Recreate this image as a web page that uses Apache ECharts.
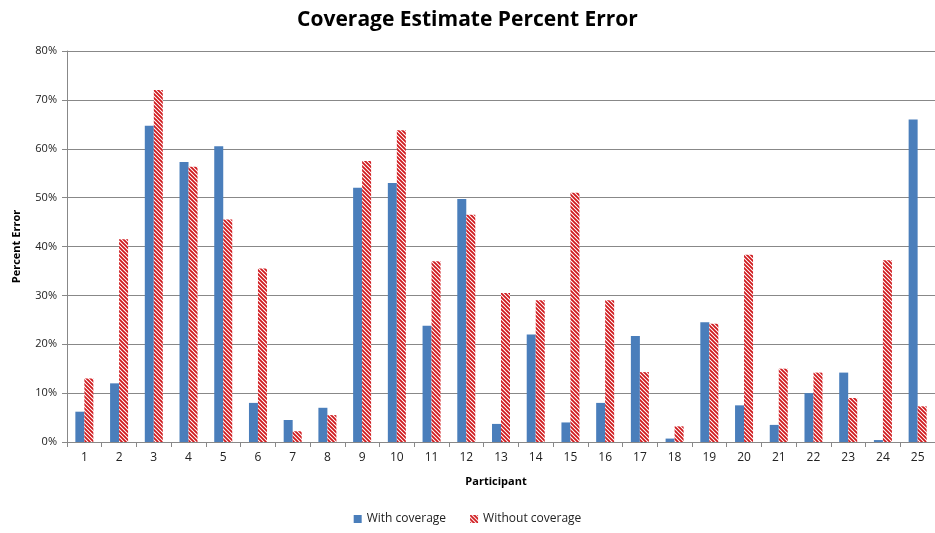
<!DOCTYPE html>
<html><head><meta charset="utf-8">
<script src="https://cdn.jsdelivr.net/npm/echarts@6/dist/echarts.min.js"></script>
<style>html,body{margin:0;padding:0;background:#fff}#c{width:935px;height:533px}</style>
</head><body><div id="c"></div>
<script>
const categories = ['1','2','3','4','5','6','7','8','9','10','11','12','13','14','15','16','17','18','19','20','21','22','23','24','25'];
const withCoverage = [6.2,12,64.7,57.3,60.5,8,4.5,7,52,53,23.8,49.7,3.7,22,4,8,21.7,0.7,24.5,7.5,3.5,10,14.2,0.4,66];
const withoutCoverage = [13,41.5,72,56.3,45.5,35.5,2.2,5.5,57.5,63.8,37,46.5,30.5,29,51,29,14.3,3.2,24.2,38.3,15,14.2,9,37.2,7.3];
const yTicks = [0,10,20,30,40,50,60,70,80];

function hatch(){
  const c = document.createElement('canvas');
  c.width = 4; c.height = 4;
  const g = c.getContext('2d');
  g.fillStyle = '#ffffff'; g.fillRect(0,0,4,4);
  g.strokeStyle = '#d0181c'; g.lineWidth = 1.8;
  g.beginPath();
  g.moveTo(-1,-1); g.lineTo(5,5);
  g.moveTo(-1,3); g.lineTo(1,5);
  g.moveTo(3,-1); g.lineTo(5,1);
  g.stroke();
  return c;
}
const pat = {image: hatch(), repeat: 'repeat'};
const chart = echarts.init(document.getElementById('c'), null, {renderer:'canvas'});
chart.setOption({
  animation:false,
  title:{text:'Coverage Estimate Percent Error', left:'center', top:5,
    textStyle:{fontFamily:'Open Sans', fontSize:21, fontWeight:'bold', color:'#000'}},
  grid:{left:67, top:51, width:873, bottom:91},
  legend:{bottom:3, left:'center', itemWidth:8, itemHeight:8, itemGap:24,
    textStyle:{fontFamily:'Open Sans', fontSize:12, color:'#222'},
    data:[{name:'With coverage', icon:'rect'},{name:'Without coverage', icon:'rect'}]},
  xAxis:{type:'category', data:categories, name:'Participant', nameLocation:'middle', nameGap:34,
    nameTextStyle:{fontFamily:'Open Sans', fontWeight:'bold', fontSize:11, color:'#000', padding:[0,0,0,-10]},
    axisLine:{lineStyle:{color:'#888'}}, axisTick:{show:true, length:5, lineStyle:{color:'#888'}},
    axisLabel:{fontFamily:'Open Sans', fontSize:12, color:'#222', margin:10}},
  yAxis:{type:'value', min:0, max:80, interval:10, name:'Percent Error', nameLocation:'middle', nameGap:45,
    nameTextStyle:{fontFamily:'Open Sans', fontWeight:'bold', fontSize:11, color:'#000'},
    axisLine:{show:true, lineStyle:{color:'#888'}}, axisTick:{show:true, length:5, lineStyle:{color:'#888'}},
    splitLine:{lineStyle:{color:'#888', width:1}},
    axisLabel:{fontFamily:'Open Sans', fontSize:11, color:'#222', margin:10,
      formatter:v=> yTicks.includes(v) ? v+'%' : ''}},
  series:[
    {name:'With coverage', type:'bar', data:withCoverage, barWidth:9, barGap:'0%',
      itemStyle:{color:'#4a7ebb'}},
    {name:'Without coverage', type:'bar', data:withoutCoverage, barWidth:9,
      itemStyle:{color:pat}}
  ]
});
</script></body></html>
